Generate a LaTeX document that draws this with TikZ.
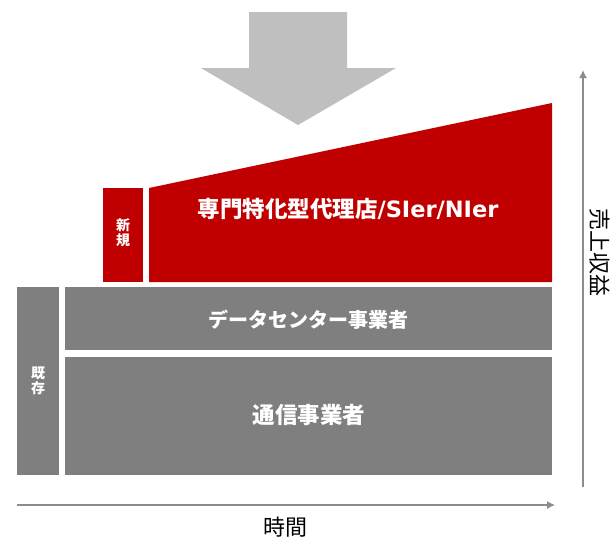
\documentclass[tikz,border=0pt]{standalone}
\usepackage{fontspec}
\usetikzlibrary{arrows.meta}
\newfontfamily\jp{Noto Sans CJK JP}
\newfontfamily\lat{DejaVu Sans}
\definecolor{newred}{HTML}{C00000}
\definecolor{oldgray}{HTML}{7F7F7F}
\definecolor{arrowgray}{HTML}{BFBFBF}
\definecolor{axisgray}{HTML}{8C8C8C}
\tikzset{
  lbl/.style={text=white,font=\jp\bfseries\fontsize{22.5}{26}\selectfont},
  small/.style={text=white,font=\jp\bfseries\fontsize{14}{15}\selectfont,align=center},
  axislbl/.style={text=black,font=\jp\fontsize{22}{26}\selectfont},
  axis/.style={draw=axisgray,line width=1.3pt,-{Latex[length=8pt,width=8pt]}},
}
\begin{document}
\begin{tikzpicture}[x=1pt,y=-1pt]
\useasboundingbox (0,0) rectangle (613,539);
% big arrow
\fill[arrowgray] (249,12) -- (347,12) -- (347,68) -- (396,68) -- (298,125) -- (201,68) -- (249,68) -- cycle;
% new business
\fill[newred] (103,188) rectangle (143,282); \node[small] (new) at (123,233) {新\\規};
\fill[newred] (149,188) -- (552,103) -- (552,282) -- (149,282) -- cycle;
\node[lbl] (sier) at (348,209) {専門特化型代理店{\lat/SIer/NIer}};
% existing business
\fill[oldgray] (17,287) rectangle (59,475); \node[small] (old) at (38,381) {既\\存};
\fill[oldgray] (65,287) rectangle (552,350); \node[lbl,font=\jp\bfseries\fontsize{20}{24}\selectfont] (dc) at (308,320) {データセンター事業者};
\fill[oldgray] (65,357) rectangle (552,475); \node[lbl] (tel) at (309,415) {通信事業者};
% axes
\coordinate (t0) at (17,505); \coordinate (t1) at (555,505);
\draw[axis] (t0) -- (t1);
\node[axislbl] (time) at (285,527) {時間};
\coordinate (r0) at (583,487); \coordinate (r1) at (583,70);
\draw[axis] (r0) -- (r1);
\node[axislbl,rotate=-90] (rev) at (600,252) {売上収益};
\end{tikzpicture}
\end{document}
